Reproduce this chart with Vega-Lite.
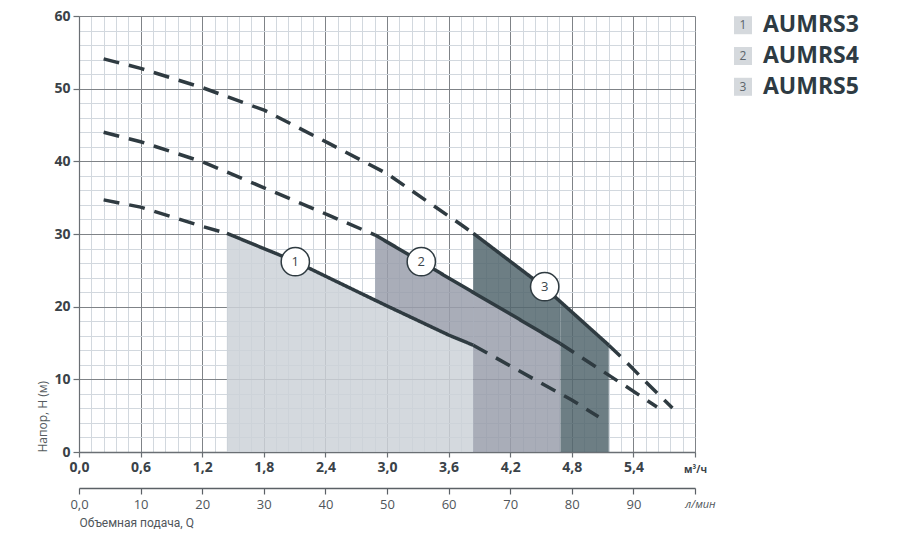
{
  "$schema": "https://vega.github.io/schema/vega-lite/v6.json",
  "background": "white",
  "padding": {"left": 36, "top": 9, "right": 5, "bottom": 5},
  "config": {"view": {"stroke": null}, "font": "Open Sans"},
  "bounds": "flush",
  "spacing": 48,
  "datasets": {
    "curves": [
      {"seg": "1a", "style": "dash", "q": 0.24, "h": 34.7},
      {"seg": "1a", "style": "dash", "q": 0.6, "h": 33.7},
      {"seg": "1a", "style": "dash", "q": 1.21, "h": 31.0},
      {"seg": "1a", "style": "dash", "q": 1.44, "h": 30.1},
      {"seg": "1b", "style": "solid", "q": 1.44, "h": 30.1},
      {"seg": "1b", "style": "solid", "q": 1.8, "h": 28.0},
      {"seg": "1b", "style": "solid", "q": 2.11, "h": 26.2},
      {"seg": "1b", "style": "solid", "q": 2.4, "h": 24.2},
      {"seg": "1b", "style": "solid", "q": 3.0, "h": 20.1},
      {"seg": "1b", "style": "solid", "q": 3.6, "h": 16.1},
      {"seg": "1b", "style": "solid", "q": 3.84, "h": 14.7},
      {"seg": "1c", "style": "dash", "q": 3.84, "h": 14.7},
      {"seg": "1c", "style": "dash", "q": 4.41, "h": 10.2},
      {"seg": "1c", "style": "dash", "q": 4.8, "h": 7.15},
      {"seg": "1c", "style": "dash", "q": 5.06, "h": 4.86},
      {"seg": "2a", "style": "dash", "q": 0.24, "h": 44.0},
      {"seg": "2a", "style": "dash", "q": 0.6, "h": 42.7},
      {"seg": "2a", "style": "dash", "q": 1.21, "h": 39.9},
      {"seg": "2a", "style": "dash", "q": 1.78, "h": 36.5},
      {"seg": "2a", "style": "dash", "q": 2.43, "h": 32.6},
      {"seg": "2a", "style": "dash", "q": 2.885, "h": 29.85},
      {"seg": "2b", "style": "solid", "q": 2.885, "h": 29.85},
      {"seg": "2b", "style": "solid", "q": 3.33, "h": 26.2},
      {"seg": "2b", "style": "solid", "q": 3.84, "h": 21.96},
      {"seg": "2b", "style": "solid", "q": 4.2, "h": 19.0},
      {"seg": "2b", "style": "solid", "q": 4.69, "h": 14.9},
      {"seg": "2c", "style": "dash", "q": 4.69, "h": 14.9},
      {"seg": "2c", "style": "dash", "q": 5.07, "h": 11.4},
      {"seg": "2c", "style": "dash", "q": 5.32, "h": 9.1},
      {"seg": "2c", "style": "dash", "q": 5.63, "h": 6.2},
      {"seg": "3a", "style": "dash", "q": 0.24, "h": 54.1},
      {"seg": "3a", "style": "dash", "q": 0.6, "h": 52.8},
      {"seg": "3a", "style": "dash", "q": 1.21, "h": 50.1},
      {"seg": "3a", "style": "dash", "q": 1.81, "h": 47.0},
      {"seg": "3a", "style": "dash", "q": 2.43, "h": 42.5},
      {"seg": "3a", "style": "dash", "q": 3.0, "h": 38.3},
      {"seg": "3a", "style": "dash", "q": 3.73, "h": 31.2},
      {"seg": "3a", "style": "dash", "q": 3.84, "h": 30.1},
      {"seg": "3b", "style": "solid", "q": 3.84, "h": 30.1},
      {"seg": "3b", "style": "solid", "q": 4.2, "h": 26.24},
      {"seg": "3b", "style": "solid", "q": 4.53, "h": 22.7},
      {"seg": "3b", "style": "solid", "q": 4.69, "h": 20.67},
      {"seg": "3b", "style": "solid", "q": 5.16, "h": 14.7},
      {"seg": "3c", "style": "dash", "q": 5.16, "h": 14.7},
      {"seg": "3c", "style": "dash", "q": 5.31, "h": 12.7},
      {"seg": "3c", "style": "dash", "q": 5.51, "h": 9.8},
      {"seg": "3c", "style": "dash", "q": 5.78, "h": 6.05}
    ],
    "areas": [
      {"part": "1", "grp": "1", "q": 1.44, "top": 30.1, "bottom": 0},
      {"part": "1", "grp": "1", "q": 1.8, "top": 28.0, "bottom": 0},
      {"part": "1", "grp": "1", "q": 2.11, "top": 26.2, "bottom": 0},
      {"part": "1", "grp": "1", "q": 2.4, "top": 24.2, "bottom": 0},
      {"part": "1", "grp": "1", "q": 3.0, "top": 20.1, "bottom": 0},
      {"part": "1", "grp": "1", "q": 3.6, "top": 16.1, "bottom": 0},
      {"part": "1", "grp": "1", "q": 3.84, "top": 14.7, "bottom": 0},
      {"part": "2a", "grp": "2", "q": 2.885, "top": 29.85, "bottom": 20.89},
      {"part": "2a", "grp": "2", "q": 3.0, "top": 28.91, "bottom": 20.1},
      {"part": "2a", "grp": "2", "q": 3.33, "top": 26.2, "bottom": 17.9},
      {"part": "2a", "grp": "2", "q": 3.6, "top": 23.96, "bottom": 16.1},
      {"part": "2a", "grp": "2", "q": 3.84, "top": 21.96, "bottom": 14.7},
      {"part": "2b", "grp": "2", "q": 3.84, "top": 21.96, "bottom": 0},
      {"part": "2b", "grp": "2", "q": 4.2, "top": 19.0, "bottom": 0},
      {"part": "2b", "grp": "2", "q": 4.69, "top": 14.9, "bottom": 0},
      {"part": "3a", "grp": "3", "q": 3.84, "top": 30.1, "bottom": 21.96},
      {"part": "3a", "grp": "3", "q": 4.2, "top": 26.24, "bottom": 19.0},
      {"part": "3a", "grp": "3", "q": 4.53, "top": 22.7, "bottom": 16.23},
      {"part": "3a", "grp": "3", "q": 4.69, "top": 20.67, "bottom": 14.9},
      {"part": "3b", "grp": "3", "q": 4.69, "top": 20.67, "bottom": 0},
      {"part": "3b", "grp": "3", "q": 5.16, "top": 14.7, "bottom": 0}
    ],
    "badges": [
      {"n": "1", "q": 2.107, "h": 26.19},
      {"n": "2", "q": 3.334, "h": 26.19},
      {"n": "3", "q": 4.536, "h": 22.75}
    ],
    "legend": [
      {"num": "1", "name": "AUMRS3"},
      {"num": "2", "name": "AUMRS4"},
      {"num": "3", "name": "AUMRS5"}
    ]
  },
  "hconcat": [
    {
      "width": 616,
      "height": 436,
      "layer": [
        {
          "data": {"values": [{"q": 0, "h": 0}]},
          "mark": {"type": "point", "opacity": 0},
          "encoding": {
            "x": {"field": "q", "type": "quantitative", "scale": {"domain": [0, 6], "nice": false, "zero": false},
              "axis": {"orient": "bottom", "values": [0,0.12,0.24,0.36,0.48,0.6,0.72,0.84,0.96,1.08,1.2,1.32,1.44,1.56,1.68,1.8,1.92,2.04,2.16,2.28,2.4,2.52,2.64,2.76,2.88,3,3.12,3.24,3.36,3.48,3.6,3.72,3.84,3.96,4.08,4.2,4.32,4.44,4.56,4.68,4.8,4.92,5.04,5.16,5.28,5.4,5.52,5.64,5.76,5.88,6],
                "grid": true, "gridColor": "#d2d8de", "gridWidth": 1, "labels": false, "ticks": false, "domain": false, "title": null}},
            "y": {"field": "h", "type": "quantitative", "scale": {"domain": [0, 60], "nice": false},
              "axis": {"orient": "left", "values": [0,2,4,6,8,10,12,14,16,18,20,22,24,26,28,30,32,34,36,38,40,42,44,46,48,50,52,54,56,58,60],
                "grid": true, "gridColor": "#d2d8de", "gridWidth": 1, "labels": false, "ticks": false, "domain": false, "title": null}}
          }
        },
        {
          "data": {"values": [{"q": 0, "h": 0}]},
          "mark": {"type": "point", "opacity": 0},
          "encoding": {
            "x": {"field": "q", "type": "quantitative", "scale": {"domain": [0, 6], "nice": false, "zero": false},
              "axis": {"orient": "bottom", "values": [0,0.6,1.2,1.8,2.4,3,3.6,4.2,4.8,5.4,6],
                "grid": true, "gridColor": "#7f8387", "gridWidth": 1,
                "domain": true, "domainColor": "#6a6f74", "domainWidth": 1.5,
                "ticks": true, "tickColor": "#6a6f74", "tickSize": 5, "tickWidth": 1.2,
                "labelFont": "Open Sans", "labelFontWeight": "bold", "labelColor": "#3a4248",
                "labelFontSize": {"condition": {"test": "datum.value == 6", "value": 10}, "value": 14},
                "labelPadding": {"condition": {"test": "datum.value == 6", "value": 7}, "value": 3},
                "labelFlush": false, "labelOverlap": false,
                "labelExpr": "datum.value == 6 ? 'м³/ч' : replace(format(datum.value, '.1f'), '.', ',')",
                "title": null}},
            "y": {"field": "h", "type": "quantitative", "scale": {"domain": [0, 60], "nice": false},
              "axis": {"orient": "left", "values": [0,10,20,30,40,50,60],
                "grid": true, "gridColor": "#7f8387", "gridWidth": 1,
                "domain": true, "domainColor": "#6a6f74", "domainWidth": 1.2,
                "ticks": true, "tickColor": "#6a6f74", "tickSize": 6, "tickWidth": 1.2,
                "labelFont": "Open Sans", "labelFontWeight": "bold", "labelFontSize": 14, "labelColor": "#3a4248",
                "labelPadding": 3, "labelFlush": false, "labelOverlap": false,
                "title": "Напор, Н (м)", "titleFont": "Open Sans", "titleFontWeight": "normal", "titleFontSize": 12,
                "titleColor": "#555b60", "titleAnchor": "start", "titlePadding": 4}}
          }
        },
        {
          "layer": [
            {
              "data": {"name": "areas"},
              "mark": {"type": "area", "fillOpacity": 0.85, "interpolate": "linear"},
              "encoding": {
                "x": {"field": "q", "type": "quantitative", "scale": {"domain": [0, 6], "nice": false, "zero": false}, "axis": null},
                "y": {"field": "top", "type": "quantitative", "scale": {"domain": [0, 60], "nice": false}, "axis": null},
                "y2": {"field": "bottom"},
                "detail": {"field": "part"},
                "fill": {"field": "grp", "type": "nominal", "scale": {"domain": ["1", "2", "3"], "range": ["#ccd2d8", "#9a9fab", "#53676f"]}, "legend": null}
              }
            },
            {
              "data": {"name": "curves"},
              "mark": {"type": "line", "color": "#2f3b41", "strokeWidth": 3.5, "strokeCap": "butt"},
              "encoding": {
                "x": {"field": "q", "type": "quantitative", "scale": {"domain": [0, 6], "nice": false, "zero": false}, "axis": null},
                "y": {"field": "h", "type": "quantitative", "scale": {"domain": [0, 60], "nice": false}, "axis": null},
                "detail": {"field": "seg"},
                "strokeDash": {"field": "style", "type": "nominal", "scale": {"domain": ["solid", "dash"], "range": [[1, 0], [16, 10]]}, "legend": null}
              }
            },
            {
              "data": {"name": "badges"},
              "mark": {"type": "point", "shape": "circle", "size": 800, "filled": true, "fill": "white", "stroke": "#2f3b41", "strokeWidth": 1.5, "opacity": 1},
              "encoding": {
                "x": {"field": "q", "type": "quantitative", "axis": null},
                "y": {"field": "h", "type": "quantitative", "axis": null}
              }
            },
            {
              "data": {"name": "badges"},
              "mark": {"type": "text", "font": "Open Sans", "fontSize": 13, "color": "#3b464c"},
              "encoding": {
                "x": {"field": "q", "type": "quantitative", "axis": null},
                "y": {"field": "h", "type": "quantitative", "axis": null},
                "text": {"field": "n"}
              }
            }
          ]
        },
        {
          "data": {"values": [{"l": 0}]},
          "mark": {"type": "point", "opacity": 0},
          "encoding": {
            "x": {"field": "l", "type": "quantitative", "scale": {"domain": [0, 100], "nice": false, "zero": false},
              "axis": {"orient": "bottom", "offset": 36, "values": [0,10,20,30,40,50,60,70,80,90,100],
                "grid": false, "domain": true, "domainColor": "#5b6166", "domainWidth": 1.5,
                "ticks": true, "tickSize": 6, "tickColor": "#5b6166", "tickWidth": 1.2,
                "labelFont": "Open Sans", "labelColor": "#50565b",
                "labelFontSize": {"condition": {"test": "datum.value == 100", "value": 11}, "value": 13},
                "labelFontStyle": {"condition": {"test": "datum.value == 100", "value": "italic"}, "value": "normal"},
                "labelOffset": {"condition": {"test": "datum.value == 100", "value": 5}, "value": 0},
                "labelPadding": 4, "labelFlush": false, "labelOverlap": false,
                "labelExpr": "datum.value == 0 ? '0,0' : datum.value == 100 ? 'л/мин' : datum.label",
                "title": "Объемная подача, Q", "titleFont": "Roboto", "titleFontSize": 12, "titleFontWeight": "normal",
                "titleColor": "#50565b", "titleAnchor": "start", "titleAlign": "left", "titlePadding": 6}}
          }
        }
      ],
      "resolve": {"scale": {"x": "independent", "y": "independent"}, "axis": {"x": "independent", "y": "independent"}}
    },
    {
      "width": 20,
      "height": 80,
      "data": {"name": "legend"},
      "encoding": {
        "y": {"field": "name", "type": "nominal", "scale": {"type": "point", "padding": 0.3}, "axis": null}
      },
      "layer": [
        {
          "mark": {"type": "square", "size": 324, "color": "#d5d9dd", "opacity": 1},
          "encoding": {"x": {"datum": "sq", "type": "nominal", "scale": {"type": "point", "domain": ["sq", "name"], "padding": 0}, "axis": null}}
        },
        {
          "mark": {"type": "text", "font": "Open Sans", "fontSize": 12, "color": "#5c646a"},
          "encoding": {"x": {"datum": "sq", "type": "nominal"}, "text": {"field": "num"}}
        },
        {
          "mark": {"type": "text", "align": "left", "font": "Open Sans", "fontSize": 23, "fontWeight": "bold", "color": "#2e3b43"},
          "encoding": {"x": {"datum": "name", "type": "nominal"}, "text": {"field": "name"}}
        }
      ]
    }
  ]
}
